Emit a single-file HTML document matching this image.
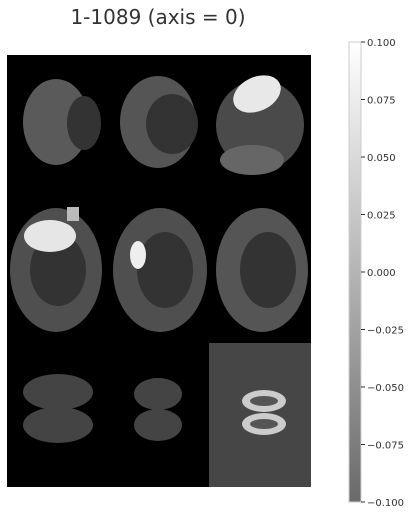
<!DOCTYPE html>
<html><head><style>
body{margin:0;width:412px;height:515px;background:#fff;overflow:hidden;font-family:"DejaVu Sans","Liberation Sans",sans-serif}
</style></head><body>
<svg width="412" height="515">
<text x="158" y="24" text-anchor="middle" font-size="20" fill="#333" font-family="DejaVu Sans, sans-serif">1-1089 (axis = 0)</text>
<g>
<rect x="7" y="55" width="304" height="432" fill="#000"/>
<rect x="209" y="343" width="102" height="144" fill="#464646"/>
<g>
<ellipse cx="56" cy="122" rx="33" ry="43" fill="#5a5a5a"/>
<ellipse cx="84" cy="123" rx="17" ry="27" fill="#333"/>
</g>
<g>
<ellipse cx="158" cy="122" rx="38" ry="46" fill="#555"/>
<ellipse cx="172" cy="124" rx="26" ry="30" fill="#333"/>
</g>
<g>
<ellipse cx="260" cy="125" rx="44" ry="45" fill="#4a4a4a"/>
<ellipse cx="257" cy="94" rx="25" ry="17" fill="#e8e8e8" transform="rotate(-25 257 94)"/>
<ellipse cx="252" cy="160" rx="32" ry="15" fill="#666"/>
</g>
<g>
<ellipse cx="56" cy="270" rx="46" ry="62" fill="#4f4f4f"/>
<ellipse cx="58" cy="270" rx="28" ry="36" fill="#333"/>
<ellipse cx="50" cy="236" rx="26" ry="16" fill="#e6e6e6"/>
<rect x="67" y="207" width="12" height="14" fill="#bbb"/>
</g>
<g>
<ellipse cx="160" cy="270" rx="47" ry="62" fill="#4f4f4f"/>
<ellipse cx="165" cy="270" rx="28" ry="38" fill="#333"/>
<ellipse cx="138" cy="255" rx="8" ry="14" fill="#eee"/>
</g>
<g>
<ellipse cx="262" cy="270" rx="46" ry="62" fill="#555"/>
<ellipse cx="268" cy="270" rx="28" ry="38" fill="#333"/>
</g>
<g>
<ellipse cx="58" cy="392" rx="35" ry="18" fill="#444"/>
<ellipse cx="58" cy="425" rx="35" ry="18" fill="#444"/>
</g>
<g>
<ellipse cx="158" cy="394" rx="24" ry="16" fill="#444"/>
<ellipse cx="158" cy="425" rx="24" ry="16" fill="#444"/>
</g>
<g>
<ellipse cx="264" cy="401" rx="22" ry="11" fill="#ccc"/>
<ellipse cx="264" cy="401" rx="14" ry="5" fill="#555"/>
<ellipse cx="264" cy="424" rx="22" ry="11" fill="#ccc"/>
<ellipse cx="264" cy="424" rx="14" ry="5" fill="#555"/>
</g>
</g>
<defs><linearGradient id="cg" x1="0" y1="0" x2="0" y2="1"><stop offset="0" stop-color="#fff"/><stop offset="1" stop-color="#6a6a6a"/></linearGradient></defs>
<rect x="349" y="42" width="12" height="460" fill="url(#cg)" stroke="#ccc" stroke-width="1"/>
<g id="ticks"></g>
</svg>
<script>
const tickValues=[0.100,0.075,0.050,0.025,0.000,-0.025,-0.050,-0.075,-0.100];
const tickLabels=["0.100","0.075","0.050","0.025","0.000","\u22120.025","\u22120.050","\u22120.075","\u22120.100"];
const vmin=-0.1,vmax=0.1,cbTop=42,cbBot=502;
function yScale(v){return cbBot-(v-vmin)/(vmax-vmin)*(cbBot-cbTop);}
const tg=document.getElementById('ticks');
tickValues.forEach((v,i)=>{
 const yy=yScale(v);
 const l=document.createElementNS('http://www.w3.org/2000/svg','line');
 l.setAttribute('x1',361);l.setAttribute('x2',365);l.setAttribute('y1',yy);l.setAttribute('y2',yy);l.setAttribute('stroke','#333');
 
 
 tg.appendChild(l);
 const t=document.createElementNS('http://www.w3.org/2000/svg','text');
 t.setAttribute('x',367);t.setAttribute('y',yy+4);t.setAttribute('font-size','10');t.setAttribute('fill','#333');
 t.setAttribute('font-family','DejaVu Sans, sans-serif');
 t.textContent=tickLabels[i];
 
 
 tg.appendChild(t);
});
</script>
</body></html>
